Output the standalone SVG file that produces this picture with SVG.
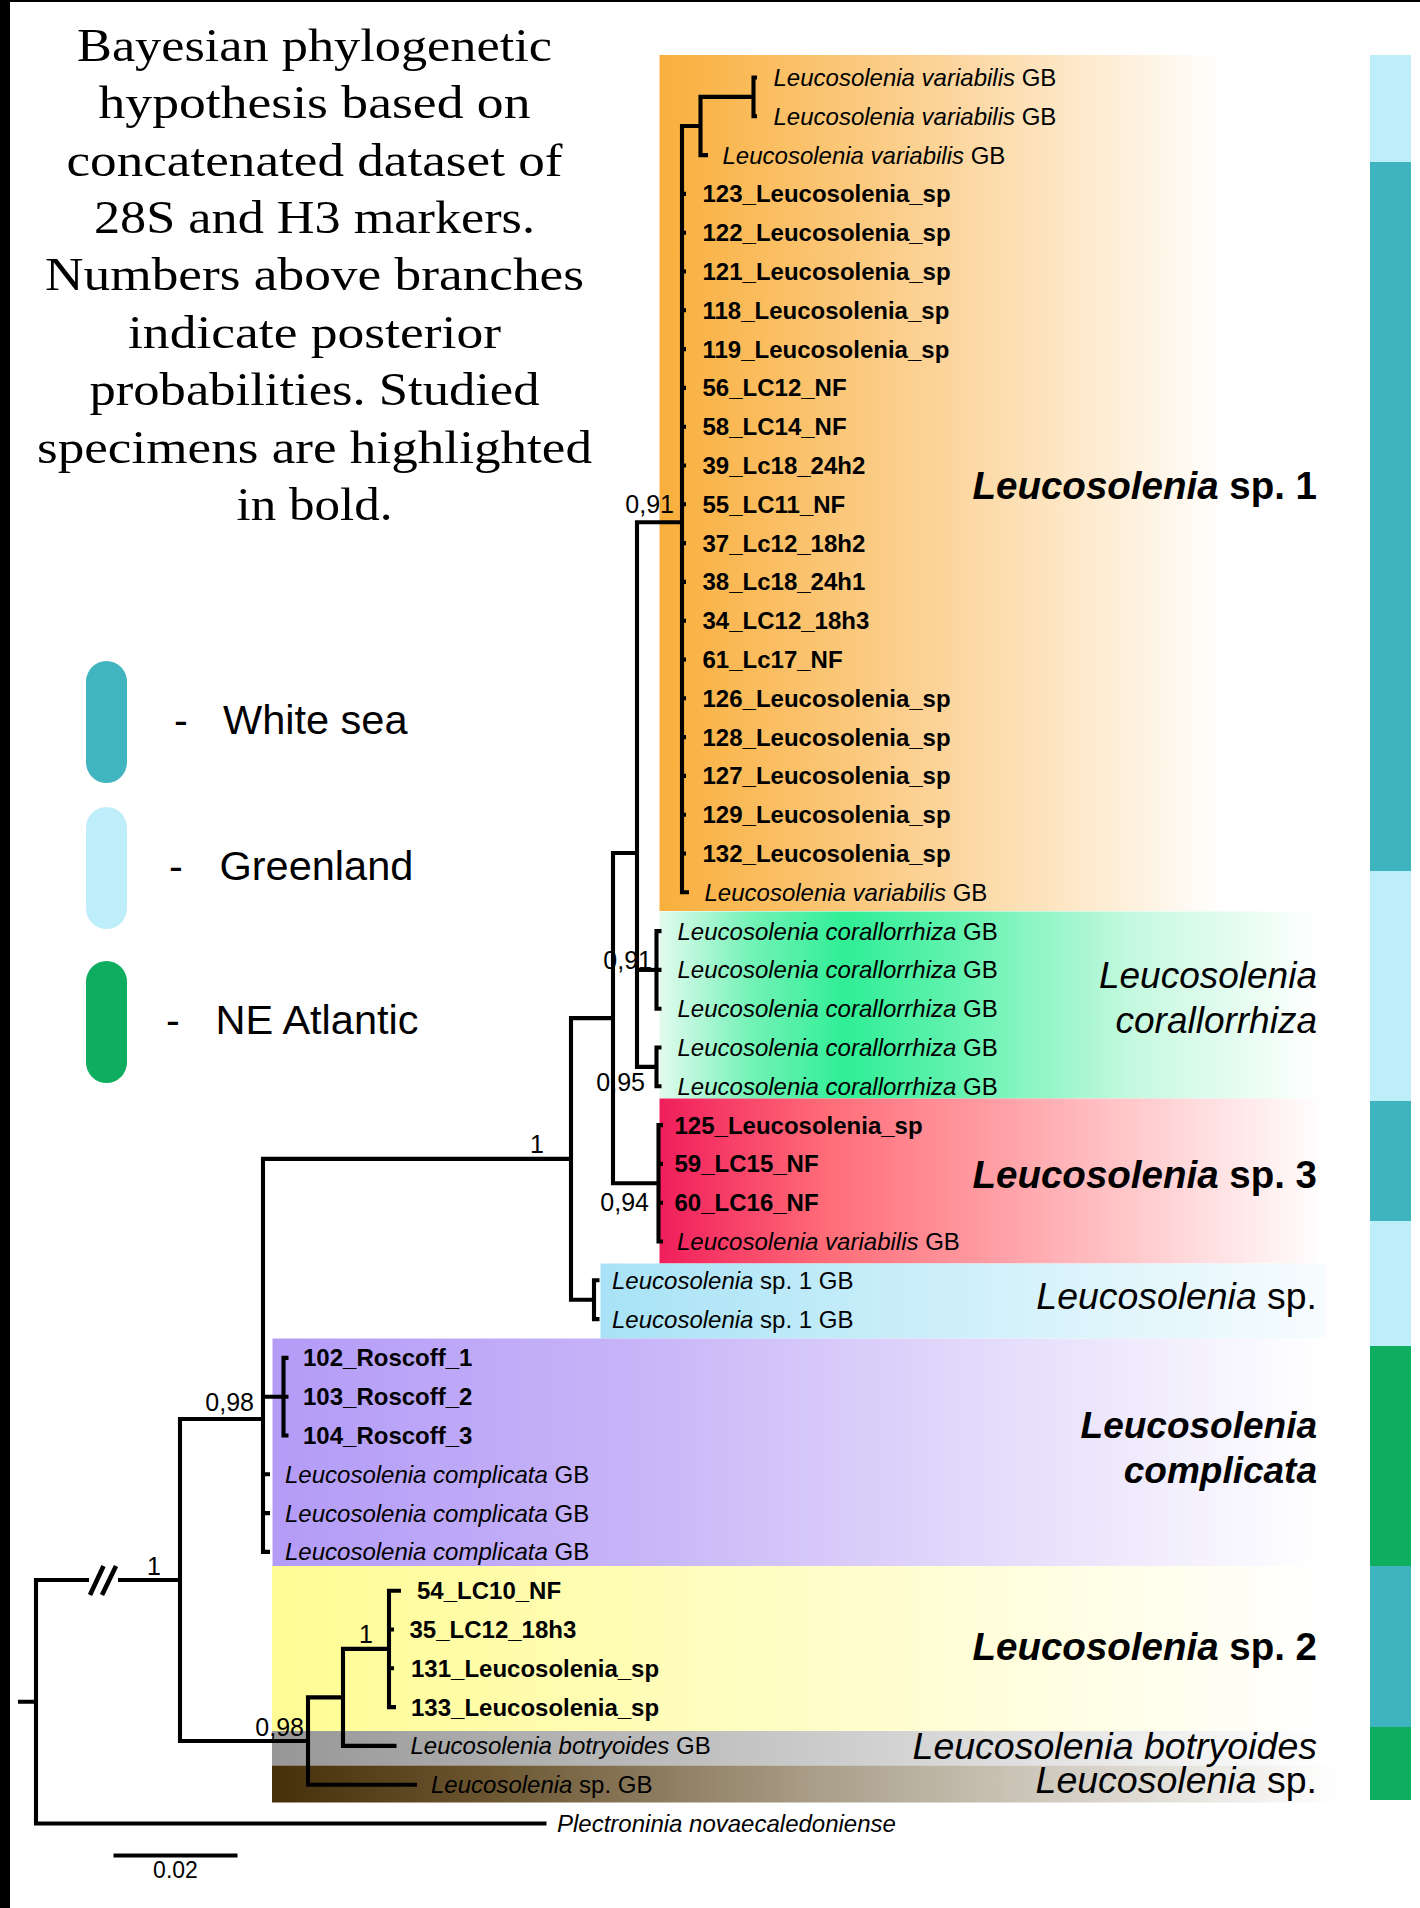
<svg xmlns="http://www.w3.org/2000/svg" width="1420" height="1908" viewBox="0 0 1420 1908">
<style>
.title{font-family:"Liberation Serif","Times New Roman",serif;font-size:47px;fill:#000;text-anchor:middle}
.leg{font-family:"Liberation Sans",Arial,sans-serif;font-size:41.5px;fill:#000}
.lf{font-family:"Liberation Sans",Arial,sans-serif;font-size:24px;fill:#000}
.b{font-weight:bold}
.i{font-style:italic}
.sup{font-family:"Liberation Sans",Arial,sans-serif;font-size:25px;fill:#000;text-anchor:end}
.cl{font-family:"Liberation Sans",Arial,sans-serif;fill:#000;text-anchor:end}
.br{fill:none;stroke:#000;stroke-width:4.1;stroke-linejoin:miter;stroke-linecap:butt}
</style>
<defs>
<linearGradient id="gOr" x1="0" y1="0" x2="1" y2="0"><stop offset="0" stop-color="#F9AF3C"/><stop offset="0.5" stop-color="#FCD49A"/><stop offset="1" stop-color="#FFFFFF"/></linearGradient>
<linearGradient id="gGr" x1="0" y1="0" x2="1" y2="0"><stop offset="0" stop-color="#E2FBEF"/><stop offset="0.14" stop-color="#72F2B6"/><stop offset="0.28" stop-color="#30EE96"/><stop offset="0.45" stop-color="#62F2AF"/><stop offset="0.72" stop-color="#C6F9E0"/><stop offset="1" stop-color="#FFFFFF"/></linearGradient>
<linearGradient id="gRd" x1="0" y1="0" x2="1" y2="0"><stop offset="0" stop-color="#F01E5B"/><stop offset="0.25" stop-color="#FF6C78"/><stop offset="0.55" stop-color="#FFA8AD"/><stop offset="0.8" stop-color="#FFDADC"/><stop offset="1" stop-color="#FFFFFF"/></linearGradient>
<linearGradient id="gLb" x1="0" y1="0" x2="1" y2="0"><stop offset="0" stop-color="#A8E2F6"/><stop offset="0.5" stop-color="#CFF0FA"/><stop offset="1" stop-color="#F7FCFE"/></linearGradient>
<linearGradient id="gPu" x1="0" y1="0" x2="1" y2="0"><stop offset="0" stop-color="#B39BF7"/><stop offset="0.35" stop-color="#C7B5F8"/><stop offset="0.7" stop-color="#E5DDFB"/><stop offset="1" stop-color="#FFFFFF"/></linearGradient>
<linearGradient id="gYe" x1="0" y1="0" x2="1" y2="0"><stop offset="0" stop-color="#FFFC94"/><stop offset="0.5" stop-color="#FFFDC6"/><stop offset="1" stop-color="#FFFFFF"/></linearGradient>
<linearGradient id="gGy" x1="0" y1="0" x2="1" y2="0"><stop offset="0" stop-color="#979797"/><stop offset="0.5" stop-color="#C9C9C9"/><stop offset="1" stop-color="#FFFFFF"/></linearGradient>
<linearGradient id="gBn" x1="0" y1="0" x2="1" y2="0"><stop offset="0" stop-color="#46300C"/><stop offset="0.2" stop-color="#6B5530"/><stop offset="0.5" stop-color="#A89C86"/><stop offset="0.8" stop-color="#DCD8D0"/><stop offset="1" stop-color="#FFFFFF"/></linearGradient>
</defs>
<rect x="0" y="0" width="1420" height="1908" fill="#FFFFFF"/>
<rect x="0" y="0" width="10" height="1908" fill="#000"/>
<rect x="0" y="0" width="1420" height="2" fill="#000"/>

<g id="title">
<text class="title" x="314.5" y="60.7" textLength="475" lengthAdjust="spacingAndGlyphs">Bayesian phylogenetic</text>
<text class="title" x="314.5" y="118" textLength="432" lengthAdjust="spacingAndGlyphs">hypothesis based on</text>
<text class="title" x="314.5" y="175.5" textLength="496" lengthAdjust="spacingAndGlyphs">concatenated dataset of</text>
<text class="title" x="314.5" y="233" textLength="441" lengthAdjust="spacingAndGlyphs">28S and H3 markers.</text>
<text class="title" x="314.5" y="290" textLength="539" lengthAdjust="spacingAndGlyphs">Numbers above branches</text>
<text class="title" x="314.5" y="347.7" textLength="373" lengthAdjust="spacingAndGlyphs">indicate posterior</text>
<text class="title" x="314.5" y="405" textLength="450" lengthAdjust="spacingAndGlyphs">probabilities. Studied</text>
<text class="title" x="314.5" y="462.5" textLength="555" lengthAdjust="spacingAndGlyphs">specimens are highlighted</text>
<text class="title" x="314.5" y="520" textLength="156" lengthAdjust="spacingAndGlyphs">in bold.</text>
</g>

<g id="legend">
<g id="legend-white-sea"><rect x="86" y="661" width="41" height="122" rx="20.5" fill="#41B5BF"/><text class="leg" x="174" y="734">-</text><text class="leg" x="223" y="734">White sea</text></g>
<g id="legend-greenland"><rect x="86" y="807" width="41" height="122" rx="20.5" fill="#BFEEFB"/><text class="leg" x="169" y="880">-</text><text class="leg" x="219.5" y="880">Greenland</text></g>
<g id="legend-ne-atlantic"><rect x="86" y="961" width="41" height="122" rx="20.5" fill="#0EAD5F"/><text class="leg" x="166" y="1034">-</text><text class="leg" x="215.5" y="1034">NE Atlantic</text></g>
</g>

<g id="clade-boxes">
<rect x="659.5" y="55" width="566" height="856" fill="url(#gOr)"/>
<rect x="659.5" y="911.5" width="661" height="187" fill="url(#gGr)"/>
<rect x="659.5" y="1098.5" width="666" height="165" fill="url(#gRd)"/>
<rect x="600.5" y="1263.5" width="725" height="75" fill="url(#gLb)"/>
<rect x="272.5" y="1338.5" width="1051" height="227.5" fill="url(#gPu)"/>
<rect x="272" y="1566" width="1052" height="165" fill="url(#gYe)"/>
<rect x="272" y="1731" width="1052" height="34.5" fill="url(#gGy)"/>
<rect x="272" y="1765.5" width="1066" height="37" fill="url(#gBn)"/>
</g>

<g id="region-bar">
<rect x="1370" y="55" width="41" height="107" fill="#BFEEFB"/>
<rect x="1370" y="162" width="41" height="709" fill="#3EB4BE"/>
<rect x="1370" y="871" width="41" height="230" fill="#BFEEFB"/>
<rect x="1370" y="1101" width="41" height="120" fill="#3EB4BE"/>
<rect x="1370" y="1221" width="41" height="125" fill="#BFEEFB"/>
<rect x="1370" y="1346" width="41" height="220" fill="#0DAE5F"/>
<rect x="1370" y="1566" width="41" height="161" fill="#3EB4BE"/>
<rect x="1370" y="1727" width="41" height="73" fill="#0DAE5F"/>
</g>

<g id="connectors" class="br">
<path d="M757,77.5 H753.5 V116.3 H757"/>
<path d="M753.5,96.9 H700.5 V155.1 H708"/>
<path d="M700.5,126 H682 V892.3 H689"/>
<path d="M682,193.9 H686 M682,232.7 H686 M682,271.5 H686 M682,310.3 H686 M682,349.1 H686 M682,387.9 H686 M682,426.7 H686 M682,465.5 H686 M682,504.3 H686 M682,543.1 H686 M682,581.9 H686 M682,620.7 H686 M682,659.5 H686 M682,698.3 H686 M682,737.1 H686 M682,775.9 H686 M682,814.7 H686 M682,853.5 H686"/>
<path d="M682,522.2 H637 V1066.9 H656.5"/>
<path d="M637,969.9 H656.5"/>
<path d="M661.5,931.1 H656.5 V1008.7 H661.5 M656.5,969.9 H661.5"/>
<path d="M661.5,1047.5 H656.5 V1086.3 H661.5"/>
<path d="M637,853 H613 V1183.3 H658.5"/>
<path d="M663,1125.1 H658.5 V1241.5 H663 M658.5,1163.9 H663 M658.5,1202.7 H663"/>
<path d="M613,1018.15 H571 V1299.7 H594"/>
<path d="M599.5,1280.3 H594 V1319.1 H599.5"/>
<path d="M571,1158.9 H263 V1551.9 H270 M263,1474.3 H270 M263,1513.1 H270 M263,1396.7 H283.5"/>
<path d="M288.5,1357.9 H283.5 V1435.5 H288.5 M283.5,1396.7 H288.5"/>
<path d="M263,1419 H180 V1741.05 H308"/>
<path d="M343,1697.4 H308 V1784.7 H417"/>
<path d="M389,1648.9 H343 V1745.9 H396.5"/>
<path d="M401,1590.7 H389 V1707.1 H396 M389,1629.5 H394 M389,1668.3 H394"/>
<path d="M18,1701.75 H36 V1580 H89 M118,1580 H180 M36,1701.75 V1823.5 H546.5"/>
<path d="M90,1595 L103.5,1566 M102,1595 L116,1566" stroke-width="4.6"/>
</g>

<g id="leaves">
<g id="leaf-0"><text class="lf" x="773.5" y="86"><tspan class="i">Leucosolenia variabilis</tspan> GB</text></g>
<g id="leaf-1"><text class="lf" x="773.5" y="124.8"><tspan class="i">Leucosolenia variabilis</tspan> GB</text></g>
<g id="leaf-2"><text class="lf" x="722.5" y="163.6"><tspan class="i">Leucosolenia variabilis</tspan> GB</text></g>
<g id="leaf-3"><text class="lf b" x="702.5" y="202.4">123_Leucosolenia_sp</text></g>
<g id="leaf-4"><text class="lf b" x="702.5" y="241.2">122_Leucosolenia_sp</text></g>
<g id="leaf-5"><text class="lf b" x="702.5" y="280">121_Leucosolenia_sp</text></g>
<g id="leaf-6"><text class="lf b" x="702.5" y="318.8">118_Leucosolenia_sp</text></g>
<g id="leaf-7"><text class="lf b" x="702.5" y="357.6">119_Leucosolenia_sp</text></g>
<g id="leaf-8"><text class="lf b" x="702.5" y="396.4">56_LC12_NF</text></g>
<g id="leaf-9"><text class="lf b" x="702.5" y="435.2">58_LC14_NF</text></g>
<g id="leaf-10"><text class="lf b" x="702.5" y="474">39_Lc18_24h2</text></g>
<g id="leaf-11"><text class="lf b" x="702.5" y="512.8">55_LC11_NF</text></g>
<g id="leaf-12"><text class="lf b" x="702.5" y="551.6">37_Lc12_18h2</text></g>
<g id="leaf-13"><text class="lf b" x="702.5" y="590.4">38_Lc18_24h1</text></g>
<g id="leaf-14"><text class="lf b" x="702.5" y="629.2">34_LC12_18h3</text></g>
<g id="leaf-15"><text class="lf b" x="702.5" y="668">61_Lc17_NF</text></g>
<g id="leaf-16"><text class="lf b" x="702.5" y="706.8">126_Leucosolenia_sp</text></g>
<g id="leaf-17"><text class="lf b" x="702.5" y="745.6">128_Leucosolenia_sp</text></g>
<g id="leaf-18"><text class="lf b" x="702.5" y="784.4">127_Leucosolenia_sp</text></g>
<g id="leaf-19"><text class="lf b" x="702.5" y="823.2">129_Leucosolenia_sp</text></g>
<g id="leaf-20"><text class="lf b" x="702.5" y="862">132_Leucosolenia_sp</text></g>
<g id="leaf-21"><text class="lf" x="704.5" y="900.8"><tspan class="i">Leucosolenia variabilis</tspan> GB</text></g>
<g id="leaf-22"><text class="lf" x="677.5" y="939.6"><tspan class="i">Leucosolenia corallorrhiza</tspan> GB</text></g>
<g id="leaf-23"><text class="lf" x="677.5" y="978.4"><tspan class="i">Leucosolenia corallorrhiza</tspan> GB</text></g>
<g id="leaf-24"><text class="lf" x="677.5" y="1017.2"><tspan class="i">Leucosolenia corallorrhiza</tspan> GB</text></g>
<g id="leaf-25"><text class="lf" x="677.5" y="1056"><tspan class="i">Leucosolenia corallorrhiza</tspan> GB</text></g>
<g id="leaf-26"><text class="lf" x="677.5" y="1094.8"><tspan class="i">Leucosolenia corallorrhiza</tspan> GB</text></g>
<g id="leaf-27"><text class="lf b" x="674.5" y="1133.6">125_Leucosolenia_sp</text></g>
<g id="leaf-28"><text class="lf b" x="674.5" y="1172.4">59_LC15_NF</text></g>
<g id="leaf-29"><text class="lf b" x="674.5" y="1211.2">60_LC16_NF</text></g>
<g id="leaf-30"><text class="lf" x="677" y="1250"><tspan class="i">Leucosolenia variabilis</tspan> GB</text></g>
<g id="leaf-31"><text class="lf" x="612" y="1288.8"><tspan class="i">Leucosolenia</tspan> sp. 1 GB</text></g>
<g id="leaf-32"><text class="lf" x="612" y="1327.6"><tspan class="i">Leucosolenia</tspan> sp. 1 GB</text></g>
<g id="leaf-33"><text class="lf b" x="303" y="1366.4">102_Roscoff_1</text></g>
<g id="leaf-34"><text class="lf b" x="303" y="1405.2">103_Roscoff_2</text></g>
<g id="leaf-35"><text class="lf b" x="303" y="1444">104_Roscoff_3</text></g>
<g id="leaf-36"><text class="lf" x="285" y="1482.8"><tspan class="i">Leucosolenia complicata</tspan> GB</text></g>
<g id="leaf-37"><text class="lf" x="285" y="1521.6"><tspan class="i">Leucosolenia complicata</tspan> GB</text></g>
<g id="leaf-38"><text class="lf" x="285" y="1560.4"><tspan class="i">Leucosolenia complicata</tspan> GB</text></g>
<g id="leaf-39"><text class="lf b" x="417" y="1599.2">54_LC10_NF</text></g>
<g id="leaf-40"><text class="lf b" x="409.5" y="1638">35_LC12_18h3</text></g>
<g id="leaf-41"><text class="lf b" x="411" y="1676.8">131_Leucosolenia_sp</text></g>
<g id="leaf-42"><text class="lf b" x="411" y="1715.6">133_Leucosolenia_sp</text></g>
<g id="leaf-43"><text class="lf" x="410.5" y="1754.4"><tspan class="i">Leucosolenia botryoides</tspan> GB</text></g>
<g id="leaf-44"><text class="lf" x="431" y="1793.2"><tspan class="i">Leucosolenia</tspan> sp. GB</text></g>
<g id="leaf-45"><text class="lf i" x="557" y="1832">Plectroninia novaecaledoniense</text></g>
</g>

<g id="support-values">
<text class="sup" x="674" y="513">0,91</text>
<text class="sup" x="652" y="969">0,91</text>
<text class="sup" x="645" y="1091">0,95</text>
<text class="sup" x="649" y="1211">0,94</text>
<text class="sup" x="544" y="1153">1</text>
<text class="sup" x="254" y="1411">0,98</text>
<text class="sup" x="161" y="1575">1</text>
<text class="sup" x="373" y="1643">1</text>
<text class="sup" x="304" y="1736">0,98</text>
</g>

<g id="clade-labels">
<g id="clade-sp1"><text class="cl b" x="1317" y="499" font-size="38.5"><tspan class="i">Leucosolenia</tspan> sp. 1</text></g>
<g id="clade-corallorrhiza"><text class="cl i" x="1317" y="988" font-size="37">Leucosolenia</text><text class="cl i" x="1317" y="1033" font-size="37">corallorrhiza</text></g>
<g id="clade-sp3"><text class="cl b" x="1317" y="1188" font-size="38.5"><tspan class="i">Leucosolenia</tspan> sp. 3</text></g>
<g id="clade-sp"><text class="cl" x="1317" y="1309" font-size="37.4"><tspan class="i">Leucosolenia</tspan> sp.</text></g>
<g id="clade-complicata"><text class="cl b i" x="1317" y="1438" font-size="37">Leucosolenia</text><text class="cl b i" x="1317" y="1483" font-size="37">complicata</text></g>
<g id="clade-sp2"><text class="cl b" x="1317" y="1660" font-size="38.5"><tspan class="i">Leucosolenia</tspan> sp. 2</text></g>
<g id="clade-botryoides"><text class="cl i" x="1317" y="1759" font-size="37.5">Leucosolenia botryoides</text></g>
<g id="clade-sp-brown"><text class="cl" x="1317" y="1793" font-size="37.5"><tspan class="i">Leucosolenia</tspan> sp.</text></g>
</g>

<g id="scale-bar">
<path d="M113.5,1855.5 H237.5" stroke="#000" stroke-width="4"/>
<text x="175.5" y="1878" font-family="Liberation Sans, Arial, sans-serif" font-size="23" text-anchor="middle">0.02</text>
</g>
</svg>
